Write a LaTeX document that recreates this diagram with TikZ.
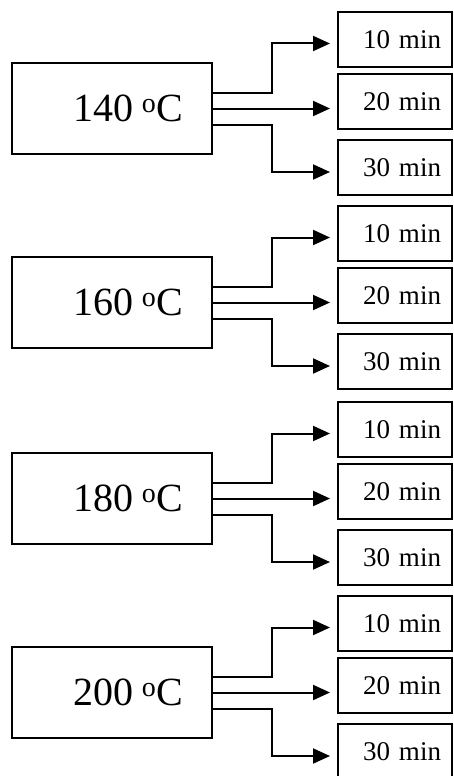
\documentclass[tikz,border=0pt]{standalone}
\usepackage{fontspec}
\setmainfont{Liberation Serif}
\usetikzlibrary{arrows.meta,positioning}
\tikzset{
  tbox/.style={rectangle,draw=black,line width=2pt,minimum width=200pt,minimum height=91pt,text width=142pt,align=right,inner xsep=29pt,inner ysep=0pt,font=\fontsize{40}{44}\selectfont},
  mbox/.style={rectangle,draw=black,line width=2pt,minimum width=114pt,minimum height=55pt,text width=92pt,align=right,inner xsep=11pt,inner ysep=0pt,font=\fontsize{27}{30}\selectfont},
  feed/.style={draw=black,line width=2pt,-{Triangle[length=17pt,width=15pt]},shorten >=7pt},
}
\begin{document}
\begin{tikzpicture}[x=1pt,y=-1pt]
\useasboundingbox (0,0) rectangle (454,776);
% One temperature block per row, each feeding three holding times.
\foreach \t/\g [count=\i] in {140/12,160/206,180/402,200/596}{
\node[tbox] (temp\i) at (112,\g+96.5) {\t\hspace{0.2em}\textsuperscript{o}C};
\node[mbox] (ten\i) at (395,\g+27.5) {10 min}; \node[mbox] (twenty\i) at (395,\g+89.5) {20 min}; \node[mbox] (thirty\i) at (395,\g+155.5) {30 min};
\draw[feed] ([yshift=16pt]temp\i.east) -- ++(59,0) |- ([yshift=-4pt]ten\i.west);
\draw[feed] (temp\i.east) -- (temp\i.east -| twenty\i.west);
\draw[feed] ([yshift=-16pt]temp\i.east) -- ++(59,0) |- ([yshift=-4.5pt]thirty\i.west);
}
\end{tikzpicture}
\end{document}
